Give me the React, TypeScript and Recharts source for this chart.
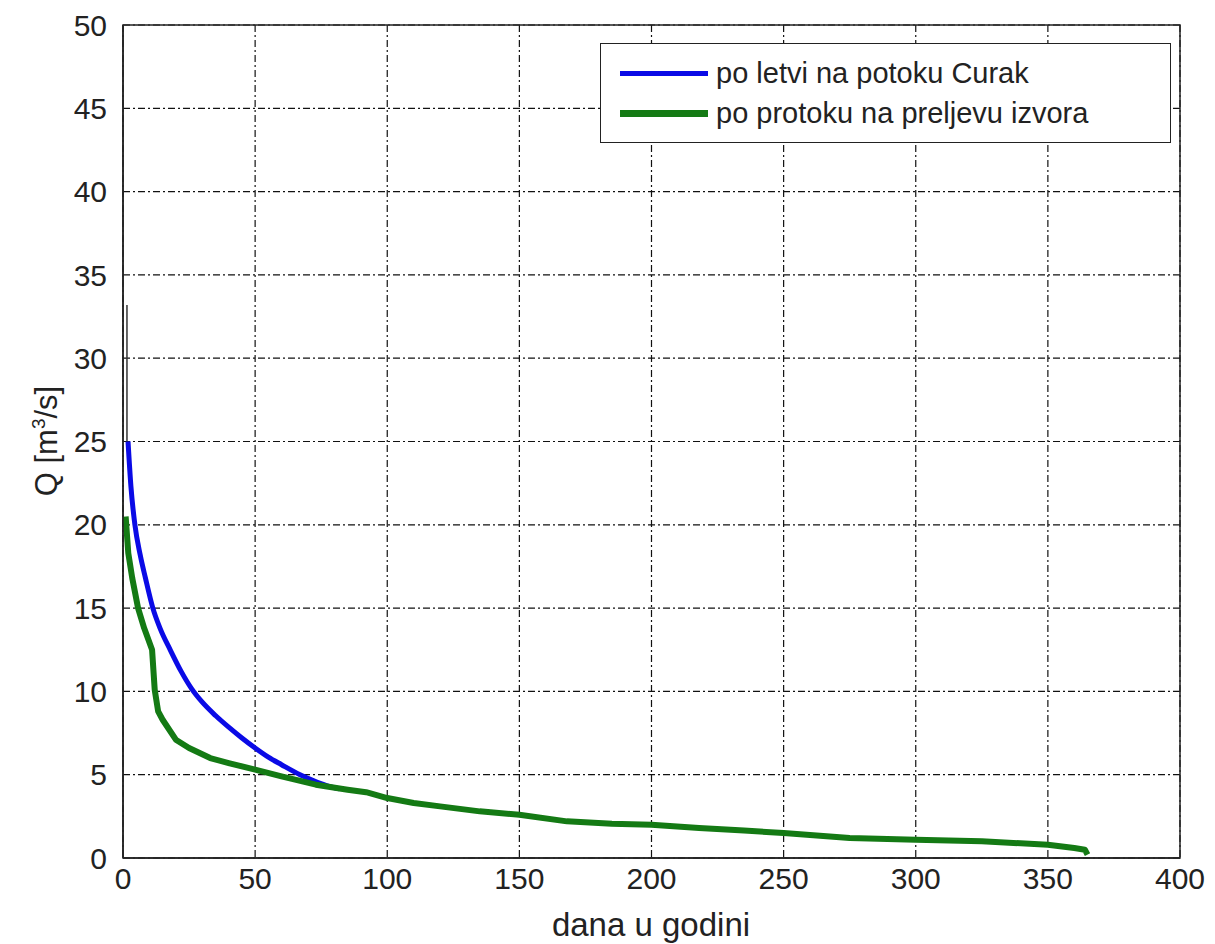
import {
  LineChart,
  Line,
  XAxis,
  YAxis,
  CartesianGrid,
  ReferenceArea,
  Label,
} from "recharts";

// days of the year (x) and discharge Q in m3/s (y)
const letvaDays = [1.9, 3, 4.5, 6.5, 8.5, 11.3, 14, 18, 22, 26, 30, 35, 40, 45, 50, 55, 60, 67, 72, 77, 82];
const letvaQ = [25, 22.3, 20, 18.2, 16.8, 15, 13.8, 12.45, 11.2, 10.15, 9.35, 8.55, 7.85, 7.2, 6.6, 6.05, 5.6, 5.0, 4.65, 4.35, 4.15];

const preljevDays = [1, 2, 3.5, 5.7, 8, 11, 12, 13.3, 15, 20, 25, 33, 40, 50, 60, 73, 85, 92, 100, 110, 120, 135, 150, 168, 185, 200, 218, 235, 250, 275, 300, 325, 350, 360, 364, 365];
const preljevQ = [20.5, 18.3, 16.8, 15, 13.8, 12.5, 10.1, 8.8, 8.3, 7.1, 6.6, 6.0, 5.7, 5.3, 4.9, 4.4, 4.1, 3.95, 3.6, 3.3, 3.1, 2.8, 2.6, 2.2, 2.05, 2.0, 1.8, 1.65, 1.5, 1.2, 1.1, 1.0, 0.8, 0.6, 0.5, 0.2];

// thin black spike at the very start of the record
const spikeDays = [1.5, 1.5];
const spikeQ = [33.2, 25];

const xTicks = [0, 50, 100, 150, 200, 250, 300, 350, 400];
const yTicks = [0, 5, 10, 15, 20, 25, 30, 35, 40, 45, 50];

const legendItems = [
  { name: "po letvi na potoku Curak", color: "#0a0ae6", width: 5 },
  { name: "po protoku na preljevu izvora", color: "#147a14", width: 7 },
];

const toPoints = (xs: number[], ys: number[]) => xs.map((x, i) => ({ x, q: ys[i] }));

const FONT = "'Liberation Sans', Arial, sans-serif";
const INK = "#222";

function MatlabLegend() {
  return (
    <div
      style={{
        position: "absolute",
        left: 600,
        top: 43,
        width: 571,
        height: 100,
        border: "1.5px solid #222",
        background: "#fff",
        boxSizing: "border-box",
        padding: "9px 0 0 19px",
        fontFamily: FONT,
        fontSize: 29,
        color: INK,
      }}
    >
      {legendItems.map((it) => (
        <div key={it.name} style={{ display: "flex", alignItems: "center", height: 40 }}>
          <div style={{ width: 88, height: it.width, background: it.color, marginRight: 8, flex: "none" }} />
          <span style={{ whiteSpace: "nowrap" }}>{it.name}</span>
        </div>
      ))}
    </div>
  );
}

export default function App() {
  const letva = toPoints(letvaDays, letvaQ);
  const preljev = toPoints(preljevDays, preljevQ);
  const spike = toPoints(spikeDays, spikeQ);

  return (
    <div style={{ position: "absolute", left: 0, top: 0, width: 1215, height: 944, background: "#fff" }}>
      <LineChart
        width={1215}
        height={944}
        margin={{ top: 25, right: 35, left: 0, bottom: 0 }}
      >
        <CartesianGrid stroke="#111" strokeDasharray="7 3 2 3" strokeWidth={1.2} />
        <XAxis
          type="number"
          dataKey="x"
          domain={[0, 400]}
          ticks={xTicks}
          height={86}
          axisLine={{ stroke: INK, strokeWidth: 1.5 }}
          tickLine={false}
          tick={{ fill: INK, fontSize: 30, fontFamily: FONT }}
          tickMargin={4}
          allowDataOverflow
        >
          <Label
            content={() => (
              <text
                x={651}
                y={936}
                textAnchor="middle"
                style={{ fill: INK, fontSize: 33, fontFamily: FONT }}
              >
                dana u godini
              </text>
            )}
          />
        </XAxis>
        <YAxis
          type="number"
          domain={[0, 50]}
          ticks={yTicks}
          width={123}
          axisLine={{ stroke: INK, strokeWidth: 1.5 }}
          tickLine={false}
          tick={{ fill: INK, fontSize: 30, fontFamily: FONT }}
          tickMargin={10}
          allowDataOverflow
        >
          <Label
            content={() => (
              <text
                x={57}
                y={441}
                transform="rotate(-90 57 441)"
                textAnchor="middle"
                style={{ fill: INK, fontSize: 31, fontFamily: FONT }}
              >
                Q [m
                <tspan dy={-12} fontSize={19}>3</tspan>
                <tspan dy={12}>/s]</tspan>
              </text>
            )}
          />
        </YAxis>
        <ReferenceArea x1={0} x2={400} y1={0} y2={50} fill="none" stroke={INK} strokeWidth={1.5} />
        <Line
          data={spike}
          dataKey="q"
          type="linear"
          stroke="#333"
          strokeWidth={1.5}
          dot={false}
          legendType="none"
          isAnimationActive={false}
        />
        <Line
          data={letva}
          dataKey="q"
          name="po letvi na potoku Curak"
          type="monotone"
          stroke="#0a0ae6"
          strokeWidth={5}
          dot={false}
          isAnimationActive={false}
        />
        <Line
          data={preljev}
          dataKey="q"
          name="po protoku na preljevu izvora"
          type="linear"
          stroke="#147a14"
          strokeWidth={6}
          strokeLinejoin="round"
          dot={false}
          isAnimationActive={false}
        />
      </LineChart>
      <MatlabLegend />
    </div>
  );
}
